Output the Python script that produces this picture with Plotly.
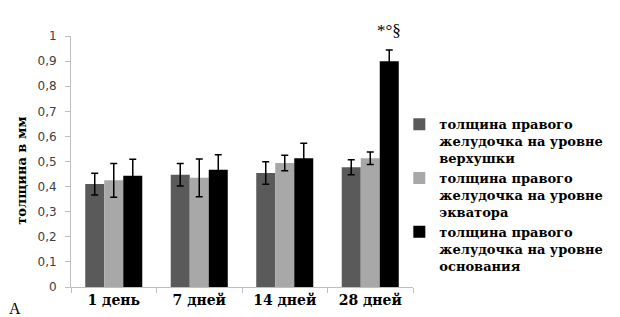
import plotly.graph_objects as go

categories = ["1 день", "7 дней", "14 дней", "28 дней"]
series_names = [
    "толщина правого<br>желудочка на уровне<br>верхушки",
    "толщина правого<br>желудочка на уровне<br>экватора",
    "толщина правого<br>желудочка на уровне<br>основания",
]
apex = [0.41, 0.447, 0.454, 0.477]
apex_err = [0.043, 0.045, 0.045, 0.03]
equator = [0.425, 0.435, 0.494, 0.513]
equator_err = [0.067, 0.075, 0.031, 0.025]
base = [0.443, 0.467, 0.513, 0.899]
base_err = [0.066, 0.06, 0.06, 0.045]
colors = ["#5a5a5a", "#a8a8a8", "#000000"]
y_ticks = [0, 0.1, 0.2, 0.3, 0.4, 0.5, 0.6, 0.7, 0.8, 0.9, 1.0]
y_tick_labels = ["0", "0,1", "0,2", "0,3", "0,4", "0,5", "0,6", "0,7", "0,8", "0,9", "1"]
significance = "*°§"
y_title = "толщина в мм"
panel_label = "А"

SERIF_B = "DejaVu Serif"

fig = go.Figure()
for name, vals, errs, col in zip(series_names, [apex, equator, base],
                                 [apex_err, equator_err, base_err], colors):
    fig.add_trace(go.Bar(
        x=categories, y=vals, name=name,
        marker=dict(color=col, line=dict(width=0)),
        error_y=dict(type="data", array=errs, visible=True,
                     color="#000000", thickness=1.5, width=3.5),
    ))

fig.add_annotation(x=3 + 2 / 9, y=base[3] + base_err[3], xref="x", yref="y",
                   text=significance, showarrow=False, yanchor="bottom", yshift=8,
                   font=dict(family="Liberation Serif", size=17, color="#000000"))
fig.add_annotation(x=-0.165, y=-0.085, xref="paper", yref="paper", text=panel_label,
                   showarrow=False, xanchor="center", yanchor="middle",
                   font=dict(family="Liberation Serif", size=16, color="#000000"))
fig.add_annotation(x=-0.145, y=0.465, xref="paper", yref="paper", text=y_title,
                   textangle=-90, showarrow=False, xanchor="center", yanchor="middle",
                   font=dict(family=SERIF_B, size=13, color="#000000", weight="bold"))

fig.add_shape(type="rect", xref="paper", yref="paper",
              x0=-0.19, x1=1.6225, y0=-0.17, y1=1.13,
              line=dict(color="#e4e4e4", width=1), fillcolor="rgba(0,0,0,0)", layer="below")

fig.update_layout(
    width=620, height=317,
    margin=dict(l=63, r=215, t=28, b=38),
    paper_bgcolor="white", plot_bgcolor="white",
    barmode="group", bargap=0.333, bargroupgap=0,
    showlegend=True,
    legend=dict(
        x=0.96, xanchor="left", y=0.708, yanchor="top",
        font=dict(family=SERIF_B, size=13, color="#000000", weight="bold"),
        valign="top", tracegroupgap=4, itemwidth=30,
    ),
    xaxis=dict(
        showline=True, linecolor="#bfbfbf", linewidth=1,
        ticks="outside", tickson="boundaries", ticklen=5, tickcolor="#bfbfbf",
        tickfont=dict(family=SERIF_B, size=14, color="#000000", weight="bold"),
        showgrid=False,
    ),
    yaxis=dict(
        range=[0, 1.0], tickvals=y_ticks, ticktext=y_tick_labels,
        showline=True, linecolor="#bfbfbf", linewidth=1,
        ticks="outside", ticklen=5, tickcolor="#bfbfbf",
        tickfont=dict(family="DejaVu Sans", size=12, color="#404040"),
        ticklabelstandoff=6,
        showgrid=False, zeroline=False,
    ),
)
fig.write_html("out.html")
